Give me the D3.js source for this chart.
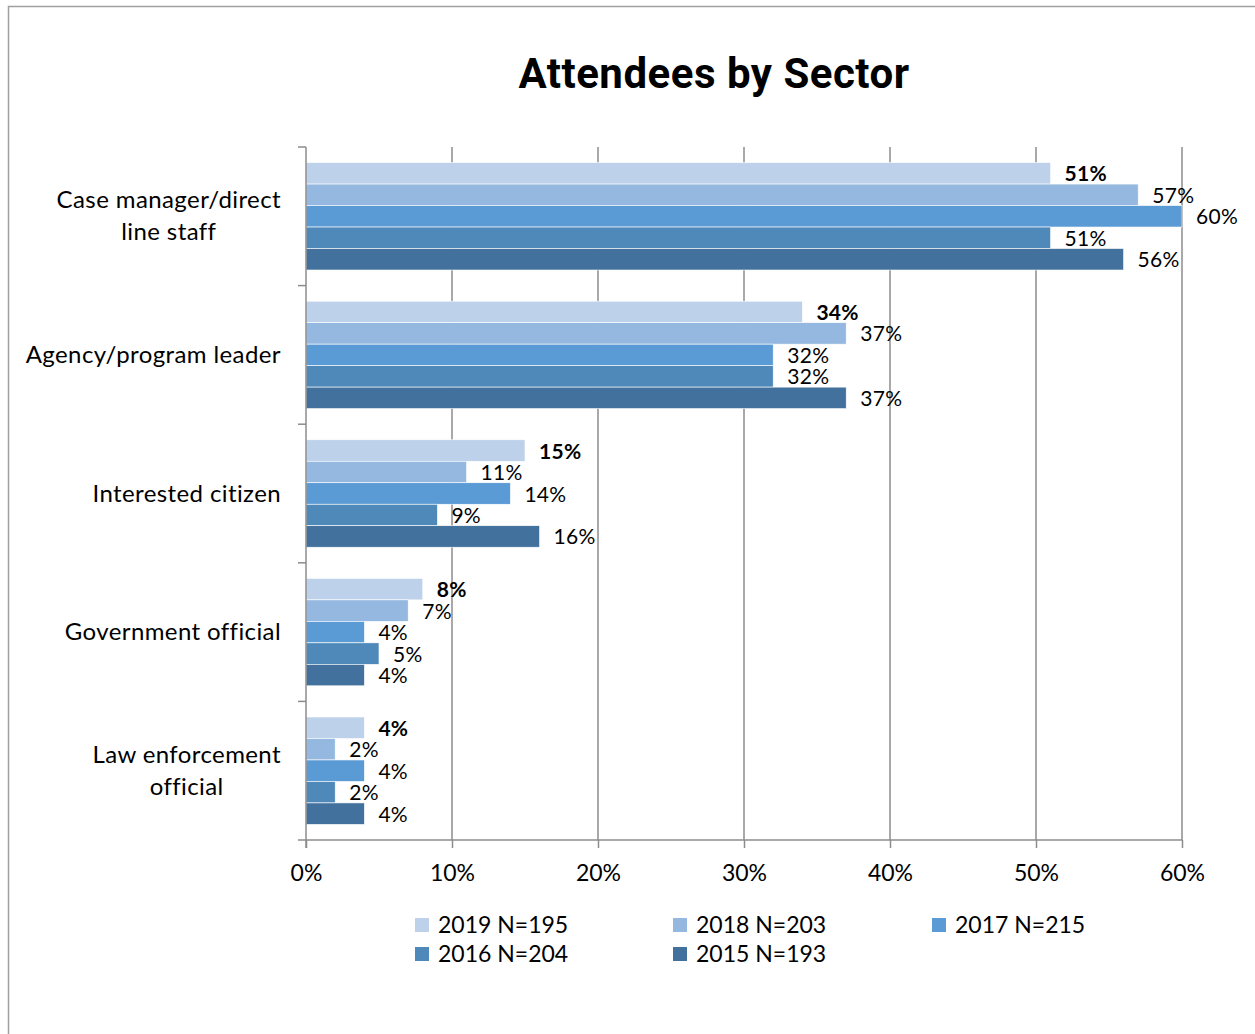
<!DOCTYPE html>
<html>
<head>
<meta charset="utf-8">
<script src="https://cdn.jsdelivr.net/npm/d3@7/dist/d3.min.js"></script>
<style>
  body { margin: 0; background: #fff; }
  svg text { font-family: "Lato", "Open Sans", sans-serif; fill: #000; }
</style>
</head>
<body>
<div id="chart"></div>
<script>
// Attendees by sector, horizontal grouped bars

var categories = ["Case manager/direct line staff", "Agency/program leader", "Interested citizen", "Government official", "Law enforcement official"];
var categoryLines = [["Case manager/direct", "line staff"], ["Agency/program leader"], ["Interested citizen"], ["Government official"], ["Law enforcement", "official"]];
var seriesNames = ["2019 N=195", "2018 N=203", "2017 N=215", "2016 N=204", "2015 N=193"];
var v2019 = [51, 34, 15, 8, 4];
var v2018 = [57, 37, 11, 7, 2];
var v2017 = [60, 32, 14, 4, 4];
var v2016 = [51, 32, 9, 5, 2];
var v2015 = [56, 37, 16, 4, 4];
var xTicks = [0, 10, 20, 30, 40, 50, 60];
var colors = ["#bdd1ea", "#95b8e0", "#5b9bd5", "#4f89ba", "#41719c"];

var seriesValues = [v2019, v2018, v2017, v2016, v2015];

var width = 1255, height = 1034;
var margin = { top: 147, right: 73, bottom: 194, left: 306 };

var svg = d3.select("#chart").append("svg")
    .attr("width", width)
    .attr("height", height);

// outer chart border
svg.append("rect")
    .attr("x", 8.5).attr("y", 6.5)
    .attr("width", 1260).attr("height", 1040)
    .attr("fill", "none")
    .attr("stroke", "#a0a0a0")
    .attr("stroke-width", 1.5);

svg.append("text")
    .attr("x", 714).attr("y", 88)
    .attr("text-anchor", "middle")
    .style("font-family", "Roboto, sans-serif")
    .style("font-weight", "bold")
    .style("font-size", "42px")
    .style("letter-spacing", "0.5px")
    .text("Attendees by Sector");

var xScale = d3.scaleLinear()
    .domain([0, 60])
    .range([margin.left, width - margin.right]);

var yScale = d3.scaleBand()
    .domain(categories)
    .range([margin.top, height - margin.bottom])
    .paddingInner(0.225)
    .paddingOuter(0.1125);

var yBand = d3.scaleBand()
    .domain(categories)
    .range([margin.top, height - margin.bottom]);

var inner = d3.scaleBand()
    .domain(seriesNames)
    .range([0, yScale.bandwidth()]);

// gridlines
svg.append("g")
    .selectAll("line")
    .data(xTicks.slice(1))
    .enter().append("line")
    .attr("x1", function(d) { return xScale(d); })
    .attr("x2", function(d) { return xScale(d); })
    .attr("y1", margin.top)
    .attr("y2", height - margin.bottom)
    .attr("stroke", "#8c8c8c")
    .attr("stroke-width", 1.5);

// bars
var groups = svg.append("g")
    .selectAll("g")
    .data(seriesNames)
    .enter().append("g");

groups.each(function(name, si) {
    var g = d3.select(this);
    g.selectAll("rect")
        .data(seriesValues[si])
        .enter().append("rect")
        .attr("x", xScale(0))
        .attr("y", function(d, i) { return yScale(categories[i]) + inner(name); })
        .attr("width", function(d) { return xScale(d) - xScale(0); })
        .attr("height", inner.bandwidth())
        .attr("fill", colors[si])
        .attr("stroke", "#fff")
        .attr("stroke-width", 0.6);

    g.selectAll("text")
        .data(seriesValues[si])
        .enter().append("text")
        .attr("x", function(d) { return xScale(d) + 14; })
        .attr("y", function(d, i) { return yScale(categories[i]) + inner(name) + inner.bandwidth() / 2 + 8; })
        .style("font-size", "21px")
        .style("letter-spacing", "0.3px")
        .style("font-weight", si === 0 ? "bold" : "normal")
        .text(function(d) { return d + "%"; });
});

// x axis
var xAxis = d3.axisBottom(xScale)
    .tickValues(xTicks)
    .tickFormat(function(d) { return d + "%"; })
    .tickSize(8)
    .tickPadding(17);

var xg = svg.append("g")
    .attr("transform", "translate(0," + (height - margin.bottom) + ")")
    .call(xAxis);
xg.select(".domain").attr("stroke", "#8c8c8c").attr("stroke-width", 1.5)
    .attr("d", "M" + (margin.left - 8) + ",0H" + (width - margin.right));
xg.selectAll(".tick line").attr("stroke", "#8c8c8c").attr("stroke-width", 1.5);
xg.selectAll(".tick text").style("font-size", "23px").style("font-family", "Lato, sans-serif").attr("fill", "#000");

// y axis with ticks at category boundaries
var yg = svg.append("g");
yg.append("line")
    .attr("x1", margin.left).attr("x2", margin.left)
    .attr("y1", margin.top).attr("y2", height - margin.bottom + 8)
    .attr("stroke", "#8c8c8c").attr("stroke-width", 1.5);
yg.selectAll(".ytick")
    .data(categories)
    .enter().append("line")
    .attr("x1", margin.left - 8).attr("x2", margin.left)
    .attr("y1", function(d) { return yBand(d); })
    .attr("y2", function(d) { return yBand(d); })
    .attr("stroke", "#8c8c8c").attr("stroke-width", 1.5);

// category labels: block right-aligned, lines centred
var labels = svg.append("g");
categories.forEach(function(c, i) {
    var lines = categoryLines[i];
    var cy = yBand(c) + yBand.bandwidth() / 2;
    var t = labels.append("text")
        .style("font-size", "24px")
        .style("letter-spacing", "0.4px")
        .attr("text-anchor", "middle");
    lines.forEach(function(l, j) {
        t.append("tspan")
            .attr("y", cy + 8 + (j - (lines.length - 1) / 2) * 32)
            .text(l);
    });
    var maxW = 0;
    t.selectAll("tspan").each(function() { maxW = Math.max(maxW, this.getComputedTextLength()); });
    t.selectAll("tspan").attr("x", 281 - maxW / 2);
});

// legend
var legendPos = [[415, 925], [673, 925], [932, 925], [415, 954], [673, 954]];
var legend = svg.append("g")
    .selectAll("g")
    .data(seriesNames)
    .enter().append("g")
    .attr("transform", function(d, i) { return "translate(" + legendPos[i][0] + "," + legendPos[i][1] + ")"; });
legend.append("rect")
    .attr("x", 0).attr("y", -7)
    .attr("width", 14).attr("height", 14)
    .attr("fill", function(d, i) { return colors[i]; });
legend.append("text")
    .attr("x", 23).attr("y", 8)
    .style("font-size", "23px")
    .text(function(d) { return d; });
</script>
</body>
</html>
